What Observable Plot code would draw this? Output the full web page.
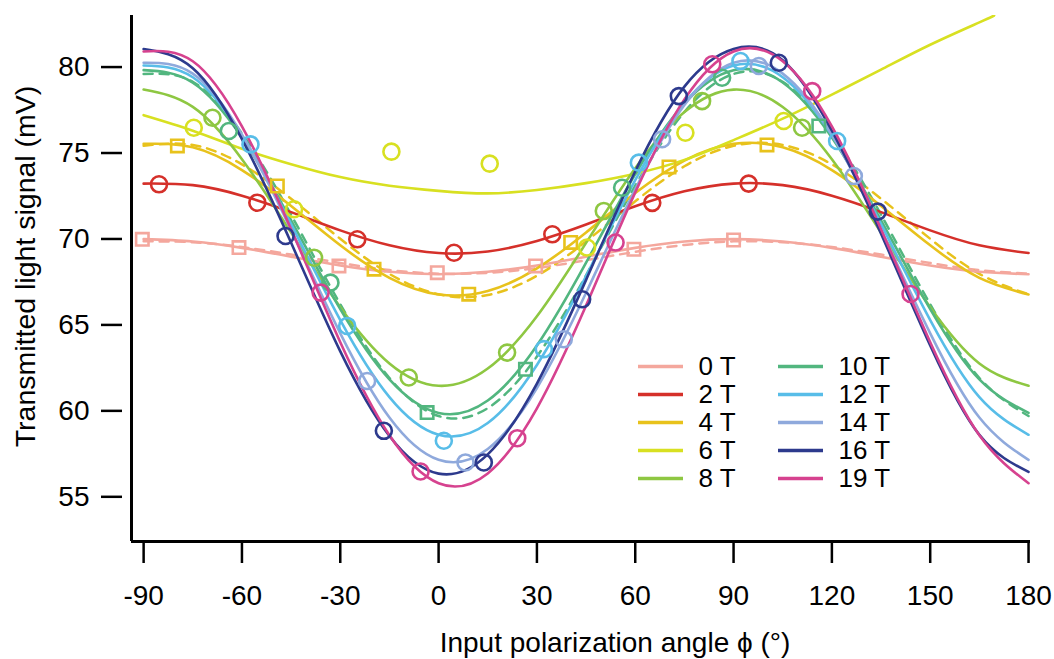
<!DOCTYPE html>
<html><head><meta charset="utf-8">
<script src="https://cdn.jsdelivr.net/npm/d3@7"></script>
<script src="https://cdn.jsdelivr.net/npm/@observablehq/plot@0.6"></script>
<style>
body{margin:0;background:#fff;}
#wrap{position:relative;width:1054px;height:659px;}
#legend{position:absolute;left:638px;top:350px;}
</style></head><body><div id="wrap"></div>
<script>
// ---- data ----
const names  = ["0 T","2 T","4 T","6 T","8 T","10 T","12 T","14 T","16 T","19 T"];
const colors = ["#f4a79d","#d5302a","#e8c21c","#d8e021","#8ec742","#52b67f","#58bde8","#8fa9dc","#2d3a8d","#d6428f"];
const xTicks = [-90,-60,-30,0,30,60,90,120,150,180];
const yTicks = [55,60,65,70,75,80];
const xDomain = [-93.7, 180.6];
const yDomain = [52.4, 83.0];

const angles  = [-90,-75,-60,-45,-30,-15,0,15,30,45,60,75,90,105,120,135,150,165,180];
const angles6T = [-90,-75,-60,-45,-30,-15,0,15,30,45,60,75,90,105,120,135,150,165,169.5];

const fit0T  = [69.99,69.85,69.48,68.97,68.46,68.09,67.95,68.09,68.46,68.97,69.48,69.85,69.99,69.85,69.48,68.97,68.46,68.09,67.95];
const fit2T  = [73.22,73.13,72.52,71.56,70.50,69.63,69.18,69.27,69.88,70.84,71.90,72.77,73.22,73.13,72.52,71.56,70.50,69.63,69.18];
const fit4T  = [75.53,75.33,74.01,71.92,69.63,67.74,66.77,66.97,68.29,70.38,72.67,74.56,75.53,75.33,74.01,71.92,69.63,67.74,66.77];
const fit6T  = [77.2,76.3,75.25,74.35,73.6,73.1,72.8,72.65,72.85,73.25,73.8,74.6,75.75,77.0,78.4,79.85,81.3,82.6,83.0];
const fit8T  = [78.69,77.68,74.64,70.37,66.03,62.76,61.46,62.46,65.50,69.77,74.11,77.38,78.69,77.68,74.64,70.37,66.03,62.76,61.46];
const fit10T = [79.82,79.10,75.90,71.08,65.92,61.83,59.88,60.60,63.80,68.62,73.78,77.88,79.82,79.10,75.90,71.08,65.92,61.83,59.88];
const fit12T = [80.09,79.41,76.03,70.86,65.28,60.80,58.61,59.29,62.67,67.84,73.42,77.90,80.09,79.41,76.03,70.86,65.28,60.80,58.61];
const fit14T = [80.25,79.62,76.07,70.53,64.51,59.61,57.15,57.78,61.33,66.87,72.89,77.79,80.25,79.62,76.07,70.53,64.51,59.61,57.15];
const fit16T = [81.05,79.93,75.81,69.78,63.46,58.54,56.35,57.47,61.59,67.62,73.94,78.86,81.05,80.4,76.3,70.3,63.8,58.6,56.45];
const fit19T = [80.91,80.34,76.55,70.57,63.99,58.58,55.79,56.36,60.15,66.13,72.71,78.12,80.91,80.34,76.55,70.57,63.99,58.58,55.79];

const dash0T  = [69.86,69.81,69.53,69.09,68.60,68.19,67.98,68.03,68.31,68.76,69.25,69.65,69.86,69.81,69.53,69.09,68.60,68.19,67.98];
const dash4T  = [75.42,75.47,74.34,72.34,70.01,67.97,66.78,66.74,67.86,69.86,72.19,74.23,75.42,75.47,74.34,72.34,70.01,67.97,66.78];
const dash10T = [79.60,79.14,76.14,71.41,66.20,61.91,59.70,60.16,63.16,67.89,73.10,77.39,79.60,79.14,76.14,71.41,66.20,61.91,59.70];

// measured points [angle, signal]
const sq0T   = [[-90.4,69.98],[-60.9,69.5],[-30.4,68.43],[-0.4,68.04],[29.6,68.43],[59.6,69.4],[90,69.94]];
const circ2T = [[-85.3,73.18],[-55.3,72.11],[-24.8,69.98],[4.7,69.2],[34.7,70.27],[65.2,72.1],[94.6,73.22]];
const sq4T   = [[-79.7,75.41],[-49.2,73.08],[-19.7,68.24],[9.2,66.79],[40.3,69.8],[70.3,74.19],[100.2,75.47]];
const circ6T = [[-74.7,76.47],[-44.1,71.73],[-14.4,75.08],[15.6,74.38],[45.3,69.5],[75.3,76.18],[105.3,76.86]];
const circ8T = [[-69,77.05],[-38,68.91],[-9.1,61.94],[20.9,63.39],[50.4,71.63],[80.4,78.02],[110.9,76.47]];
const circ10T = [[-64,76.28],[-33,67.46],[56,72.98],[86.5,79.38]];
const sq10T  = [[-3.5,59.9],[26.5,62.42],[116,76.57]];
const circ12T = [[-57.4,75.5],[-27.9,64.94],[1.6,58.26],[32.1,63.59],[61.1,74.44],[92.1,80.35],[121.6,75.7]];
const circ14T = [[-21.8,61.74],[8.2,57.0],[38.2,64.17],[68.2,75.8],[97.7,80.06],[126.7,73.66]];
const circ16T = [[-46.7,70.17],[-16.7,58.84],[13.8,57.0],[43.8,66.49],[73.3,78.31],[103.8,80.25],[134,71.59]];
const circ19T = [[-36,66.88],[-5.5,56.47],[24,58.41],[54,69.79],[83.5,80.16],[114,78.6],[144,66.8]];

// ---- build tables ----
const fits = [fit0T,fit2T,fit4T,fit6T,fit8T,fit10T,fit12T,fit14T,fit16T,fit19T];
const lineData = names.flatMap((n,i) => (i===3 ? angles6T : angles).map((a,j) => ({a, v: fits[i][j], n})));
const dashSets = [["0 T",dash0T],["4 T",dash4T],["10 T",dash10T]];
const dashData = dashSets.flatMap(([n,arr]) => angles.map((a,j) => ({a, v: arr[j], n})));
const toRows = (n, arr) => arr.map(([a,v]) => ({a, v, n}));
const circleData = [
  ...toRows("2 T",circ2T), ...toRows("6 T",circ6T), ...toRows("8 T",circ8T),
  ...toRows("10 T",circ10T), ...toRows("12 T",circ12T), ...toRows("14 T",circ14T),
  ...toRows("16 T",circ16T), ...toRows("19 T",circ19T)
];
const squareData = [...toRows("0 T",sq0T), ...toRows("4 T",sq4T), ...toRows("10 T",sq10T)];
const colorScale = {domain: names, range: colors};
const FONT = "Liberation Sans, Arial, Helvetica, sans-serif";

const chart = Plot.plot({
  width: 1054, height: 659,
  marginLeft: 131, marginRight: 24, marginTop: 15, marginBottom: 118,
  style: {fontFamily: FONT, fontSize: "28px", background: "white", color: "black"},
  x: {domain: xDomain},
  y: {domain: yDomain},
  color: colorScale,
  marks: [
    Plot.line(dashData, {x: "a", y: "v", z: "n", stroke: "n", strokeWidth: 2.5, strokeDasharray: "9,7", curve: "natural", clip: true}),
    Plot.line(lineData, {x: "a", y: "v", z: "n", stroke: "n", strokeWidth: 2.6, curve: "natural", clip: true}),
    Plot.dot(squareData, {x: "a", y: "v", stroke: "n", symbol: "square", r: 7, strokeWidth: 2.6, fill: "none"}),
    Plot.dot(circleData, {x: "a", y: "v", stroke: "n", r: 8, strokeWidth: 2.6, fill: "none"}),
    Plot.axisX({ticks: xTicks, tickSize: 22, tickPadding: 22, strokeWidth: 2.5, fontSize: 28, tickFormat: d => String(d), label: null}),
    Plot.axisY({ticks: yTicks, tickSize: 21, tickPadding: 12, dx: -9, strokeWidth: 2.5, fontSize: 28, tickFormat: d => String(d), label: null}),
    Plot.ruleX([xDomain[0]], {strokeWidth: 3}),
    Plot.ruleY([yDomain[0]], {strokeWidth: 3}),
    Plot.text(["Input polarization angle \u03D5 (\u00B0)"], {frameAnchor: "bottom", lineAnchor: "middle", dx: 34, dy: 102, fontSize: 28}),
    Plot.text(["Transmitted light signal (mV)"], {frameAnchor: "left", textAnchor: "middle", lineAnchor: "middle", rotate: -90, dx: -106, dy: -12, fontSize: 28.5})
  ]
});

const legendRows = names.map((n,i) => ({n, col: Math.floor(i/5), row: i%5}));
const legend = Plot.plot({
  width: 280, height: 143, marginLeft: 0, marginRight: 0, marginTop: 15, marginBottom: 15,
  style: {fontFamily: FONT, fontSize: "26px", background: "transparent", color: "black"},
  x: {type: "band", domain: [0,1], padding: 0, axis: null},
  y: {type: "point", domain: [0,1,2,3,4], padding: 0, axis: null},
  color: colorScale,
  marks: [
    Plot.tickY(legendRows, {x: "col", y: "row", stroke: "n", strokeWidth: 3.5, insetRight: 95}),
    Plot.text(legendRows, {x: "col", y: "row", text: "n", textAnchor: "start", dx: -10, fontSize: 26, fill: "black"})
  ]
});
legend.id = "legend";
const wrap = document.getElementById("wrap");
wrap.appendChild(chart);
wrap.appendChild(legend);
</script>
</body></html>
